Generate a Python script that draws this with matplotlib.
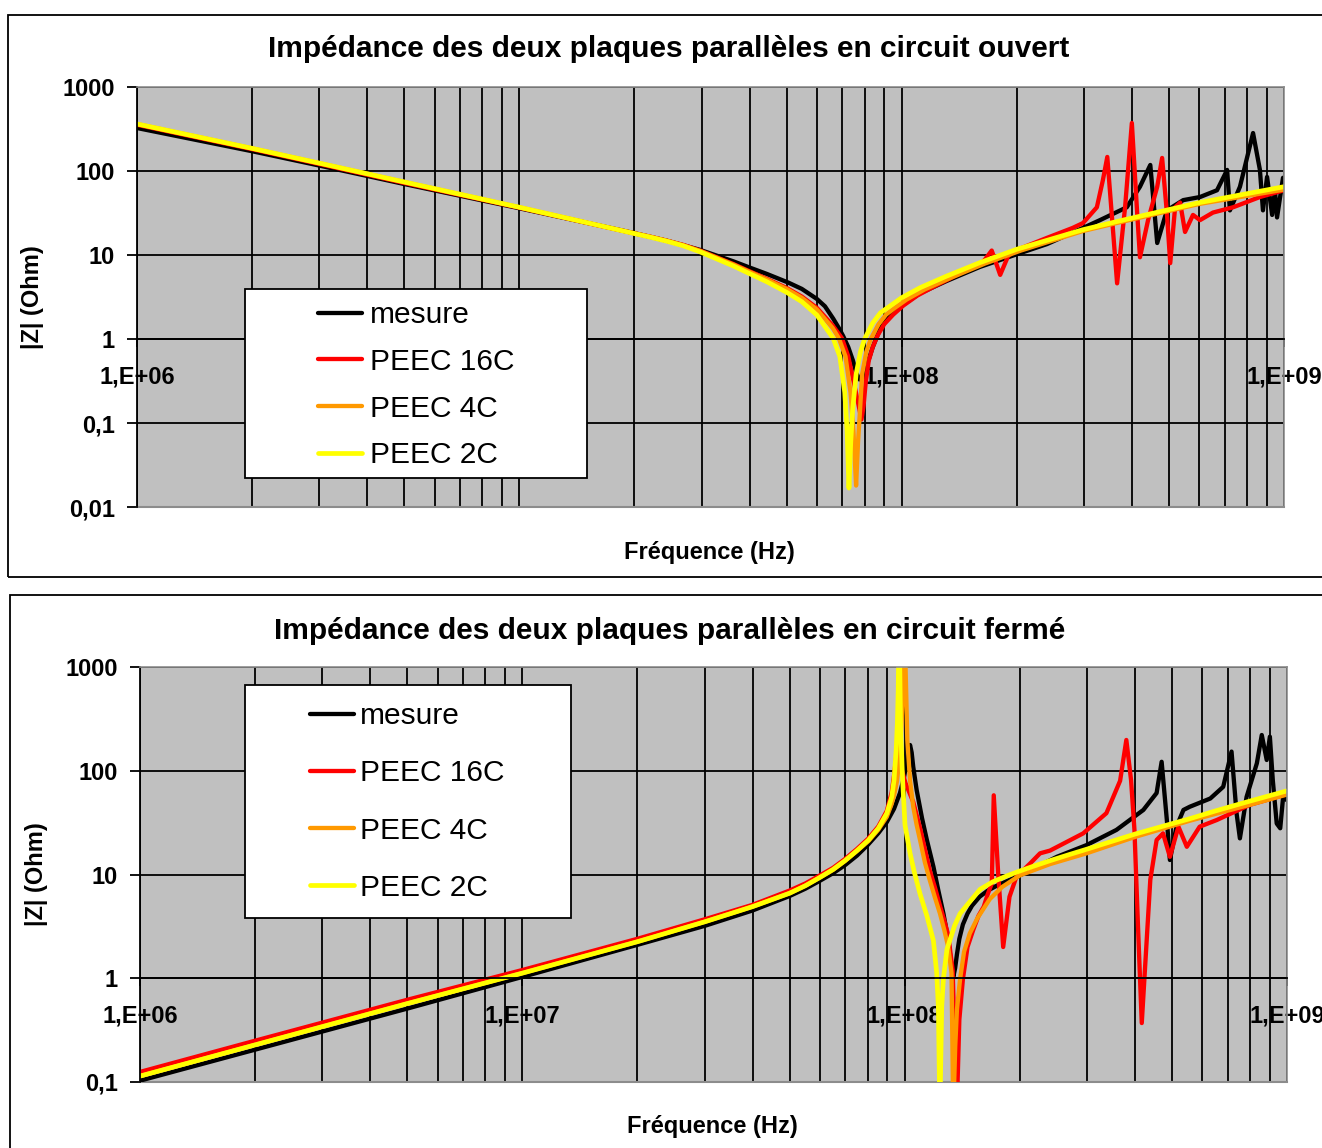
import matplotlib
matplotlib.use("Agg")
import matplotlib.pyplot as plt
from matplotlib.patches import Rectangle
from matplotlib.ticker import LogLocator, NullLocator, FixedLocator
import numpy as np

plt.rcParams['font.family'] = ['Liberation Sans', 'DejaVu Sans']

# ---------------------------------------------------------------
# Data : frequency in MHz, |Z| in Ohm
# ---------------------------------------------------------------
# Circuit ouvert
f_open_mesure = [1, 2, 3, 5, 10, 16.3, 20, 24.3, 29.7, 36.3, 40, 44.4, 50.5, 54.8, 60,
                 63, 66.2, 68.5, 70.4, 72.5, 74.6, 76, 77.5, 79, 81, 84, 88, 93.2, 100,
                 111.6, 131, 160, 200, 240, 298, 330, 388, 420, 447, 466, 494, 545, 603,
                 668, 710, 722, 767, 830, 865, 881, 903, 931, 947, 959, 994, 1000]
z_open_mesure = [325, 172, 116, 70, 36, 22.3, 18.2, 14.8, 11.5, 8.4, 7.1, 5.95, 4.7,
                 3.95, 3.0, 2.45, 1.75, 1.35, 1.07, 0.8, 0.55, 0.4, 0.33, 0.36, 0.48, 0.8,
                 1.35, 1.9, 2.5, 3.5, 4.9, 7.2, 10.2, 13.5, 21, 26, 37, 65, 118, 13.9, 34,
                 45, 49, 59, 103, 34, 65, 283, 103, 34, 85, 30, 59, 28, 83, 80]

f_open_16c = [1, 2, 3, 5, 10, 16.3, 20, 22, 24.3, 26.8, 29.7, 32.8, 36.3, 40, 44.4, 50,
              54.8, 60, 66, 69.8, 72.5, 75, 76.8, 78.5, 79.5, 80.5, 82, 84, 86.5, 90,
              95, 101, 110, 125, 145, 160, 165, 172, 181, 190, 200, 240, 280, 298, 324,
              336, 345, 357, 366, 384, 400, 413, 420, 441, 466, 480, 494, 504, 519, 535,
              551, 578, 603, 652, 736, 865, 1000]
z_open_16c = [355, 182, 121, 72, 36.5, 22.2, 18.1, 16.5, 14.8, 13.2, 11.3, 9.4, 7.8, 6.4,
              5.2, 4.05, 3.2, 2.35, 1.45, 1.02, 0.62, 0.3, 0.18, 0.11, 0.16, 0.3, 0.55,
              0.8, 1.1, 1.5, 1.95, 2.5, 3.3, 4.5, 6.3, 7.6, 8.8, 11.3, 5.8, 9.8, 11.5,
              16, 21, 24, 37, 78, 147, 19.9, 4.6, 37, 373, 31.6, 9.4, 26, 65, 143, 31.6,
              8.0, 37, 42, 18.8, 30, 26, 32, 37, 49, 59]

f_open_4c = [1, 2, 3, 5, 10, 16.3, 20, 22, 24.3, 26.8, 29.7, 32.8, 36.3, 40, 44.4, 50,
             54.8, 60, 66, 68.5, 71.3, 73.5, 74.8, 76, 76.9, 77.8, 78.8, 80.8, 83, 87,
             91, 96, 103, 115, 135, 165, 205, 298, 372, 600, 1000]
z_open_4c = [363, 186, 124, 74, 37, 22.3, 18.1, 16.5, 14.8, 13.1, 11.2, 9.3, 7.7, 6.3,
             5.1, 3.95, 3.1, 2.25, 1.35, 1.02, 0.62, 0.23, 0.08, 0.018, 0.06, 0.14, 0.38,
             0.7, 1.0, 1.5, 1.95, 2.35, 2.95, 3.9, 5.4, 7.9, 11.3, 19.3, 24.5, 40.5, 60]

f_open_2c = [1, 2, 3, 5, 10, 16.3, 20, 22, 24.3, 26.8, 29.7, 32.8, 36.3, 40, 44.4, 50,
             54.8, 60, 66.2, 68.9, 71.0, 72.0, 72.8, 73.6, 74.4, 76, 78, 80, 84, 88, 93,
             100, 112, 131, 160, 200, 298, 372, 600, 1000]
z_open_2c = [363, 186, 124, 74, 37, 22.3, 18.0, 16.3, 14.6, 12.9, 10.9, 9.0, 7.4, 6.0,
             4.8, 3.6, 2.78, 1.93, 1.02, 0.62, 0.23, 0.08, 0.0168, 0.06, 0.14, 0.38, 0.7,
             1.0, 1.55, 2.05, 2.45, 3.1, 4.1, 5.6, 8.1, 11.7, 20, 25.5, 42, 65]

# Circuit fermé
f_closed_mesure = [1, 2, 5, 10, 20, 30, 40, 50, 55, 60, 65, 70, 75, 80, 85.3, 89.8, 93.8,
                   97.2, 99.5, 101, 102.3, 103.3, 104.3, 105.3, 107.5, 111, 114.3, 118.9,
                   122.5, 126.3, 130, 132, 134, 135.5, 137, 139, 142, 146, 150, 157, 165,
                   173, 200, 250, 299, 358, 421, 456, 470, 485, 494, 514, 536, 557, 630,
                   681, 716, 738, 753, 784, 834, 859, 885, 902, 918, 940, 960, 977, 1000]
z_closed_mesure = [0.103, 0.205, 0.51, 1.03, 2.1, 3.2, 4.5, 6.2, 7.3, 8.7, 10.3, 12.4,
                   15.2, 19.2, 25, 32, 43, 61, 85, 115, 150, 177, 150, 109, 65, 35, 21.5,
                   11.9, 7, 4.2, 2.34, 1.5, 1.03, 1.25, 1.7, 2.4, 3.3, 4.2, 5.0, 6.1, 7.0,
                   7.7, 9.8, 14.8, 19.2, 26.9, 41.9, 61, 122, 33.5, 13.8, 28.9, 41.9, 45,
                   54, 70, 153, 39, 22.3, 56, 118, 221, 127, 213, 81, 31, 27.9, 56, 52]

f_closed_16c = [1, 2, 5, 10, 20, 30, 40, 50, 55, 60, 65, 69.8, 75, 80.4, 85.3, 89.8,
                92.5, 93.8, 95.3, 96.5, 100.5, 105.3, 110, 116.3, 120, 123.7, 127, 130,
                133.5, 136.8, 139, 142, 146, 151, 156, 161, 165, 169, 171, 175.6, 181,
                188, 196, 213, 226, 240, 293, 337, 366, 380, 391, 399, 408, 417, 426, 439,
                456, 474, 494, 520, 547, 591, 655, 800, 977, 1000]
z_closed_16c = [0.125, 0.25, 0.62, 1.2, 2.4, 3.7, 5.1, 7.0, 8.2, 9.8, 11.6, 14.1, 17.6,
                22.3, 29, 41, 62, 90, 150, 130, 76, 50, 27, 11, 7.5, 5, 3.6, 2.6, 1.2,
                0.05, 0.4, 0.98, 2.0, 2.9, 4.0, 4.9, 6.5, 8.2, 58, 10.3, 2.0, 6.1, 9.5,
                12.8, 16, 17, 24.9, 39, 80, 198, 81, 27, 2.9, 0.37, 1.39, 8.9, 21.5,
                24.9, 14.8, 28.9, 18.5, 28.9, 33.5, 47, 58, 59]

f_closed_4c = [1, 2, 5, 10, 20, 30, 40, 50, 55, 60, 65, 69.8, 75, 80.4, 85.3, 89.8, 92.5,
               94, 95.5, 97, 98, 98.8, 99.8, 101.0, 101.6, 103.3, 105.3, 107.5, 109.7,
               113, 116.3, 120, 123.7, 127, 130, 132.6, 134, 135.6, 137, 139.6, 143, 148,
               155, 167, 180, 200, 240, 299, 400, 557, 800, 1000]
z_closed_4c = [0.114, 0.228, 0.57, 1.12, 2.25, 3.5, 4.9, 6.6, 7.8, 9.35, 11.1, 13.5,
               16.8, 21, 27, 36, 48, 60, 80, 140, 250, 550, 3000, 500, 198, 80, 45, 30,
               21.5, 13, 8.85, 6, 4.2, 2.9, 2.0, 1.12, 0.05, 0.22, 0.5, 0.98, 1.8, 2.7,
               3.8, 5.8, 7.6, 9.8, 12.6, 16.0, 23, 33, 47, 59]

f_closed_2c = [1, 2, 5, 10, 20, 30, 40, 50, 55, 60.1, 65, 69.8, 75, 80.4, 85.3, 89.8,
               92.5, 93.8, 95, 95.7, 96.2, 96.7, 97.6, 98.8, 100.2, 103.3, 106, 109.7,
               114.3, 118.9, 121.3, 122.5, 123.6, 125, 126.3, 129, 135, 139.6, 150, 157.5,
               170, 185, 200, 217, 240, 270, 299, 400, 494, 557, 650, 800, 1000]
z_closed_2c = [0.114, 0.228, 0.57, 1.12, 2.25, 3.5, 4.9, 6.6, 7.8, 9.4, 11.2, 13.6, 17.0,
               21.5, 27.9, 38.9, 56, 81.5, 158, 287, 600, 3000, 250, 80, 30, 16, 10.5,
               6.5, 4.0, 2.3, 1.12, 0.53, 0.05, 0.53, 1.0, 1.9, 3.2, 4.2, 5.8, 7.2, 8.5,
               9.7, 10.8, 12.0, 13.6, 15.6, 17.5, 24.5, 30.5, 34.5, 41, 51, 64]

series_names = ["mesure", "PEEC 16C", "PEEC 4C", "PEEC 2C"]
series_colors = ["#000000", "#FF0000", "#FF9900", "#FFFF00"]

xtick_values = [1e6, 1e7, 1e8, 1e9]
# in the open-circuit chart the 1,E+07 label sits under the legend box
xtick_labels_open = ["1,E+06", "", "1,E+08", "1,E+09"]
xtick_labels_closed = ["1,E+06", "1,E+07", "1,E+08", "1,E+09"]
ytick_open = [0.01, 0.1, 1, 10, 100, 1000]
ytick_open_labels = ["0,01", "0,1", "1", "10", "100", "1000"]
ytick_closed = [0.1, 1, 10, 100, 1000]
ytick_closed_labels = ["0,1", "1", "10", "100", "1000"]

title_open = "Impédance des deux plaques parallèles en circuit ouvert"
title_closed = "Impédance des deux plaques parallèles en circuit fermé"
xlabel = "Fréquence (Hz)"
ylabel = "|Z| (Ohm)"

# ---------------------------------------------------------------
W, H = 1322, 1148
fig = plt.figure(figsize=(W / 100, H / 100), dpi=100)
fig.patch.set_facecolor("white")


def fx(px):
    return px / W


def fy(py):
    return 1 - py / H


def panel_axes(left, top, right, bottom):
    return fig.add_axes([fx(left), fy(bottom), (right - left) / W, (bottom - top) / H])


def style(ax, xlabels, yticks, ylabels):
    # the x axis crosses the y axis at |Z| = 1
    ax.spines["bottom"].set_position(("data", 1.0))
    ax.set_xscale("log")
    ax.set_yscale("log")
    ax.set_xlim(1e6, 1e9)
    ax.set_ylim(yticks[0], yticks[-1])
    ax.set_facecolor("#C0C0C0")
    ax.set_axisbelow(True)
    ax.xaxis.set_major_locator(FixedLocator(xtick_values))
    ax.xaxis.set_minor_locator(LogLocator(base=10, subs=np.arange(2, 10), numticks=100))
    ax.set_xticklabels(xlabels, fontweight="bold", fontsize=17)
    ax.yaxis.set_major_locator(FixedLocator(yticks))
    ax.yaxis.set_minor_locator(NullLocator())
    ax.set_yticklabels(ylabels, fontweight="bold", fontsize=17)
    ax.grid(which="major", axis="both", color="black", lw=1.3)
    ax.grid(which="minor", axis="x", color="black", lw=1.3)
    ax.tick_params(axis="y", which="major", length=7, width=1.3, direction="out", pad=9)
    ax.tick_params(axis="x", which="major", length=6, width=1.3, direction="out", pad=13)
    ax.tick_params(axis="x", which="minor", length=0)
    ax.spines["bottom"].set_color("black")
    ax.spines["bottom"].set_linewidth(1.3)
    ax.spines["left"].set_color("black")
    ax.spines["left"].set_linewidth(1.3)
    for s in ("top", "right"):
        ax.spines[s].set_color("#8C8C8C")
        ax.spines[s].set_linewidth(1.2)
    ax.axhline(yticks[0], color="#8C8C8C", lw=1.5, clip_on=False, zorder=1)


def draw_curves(ax, data):
    lines = []
    for (f, z), name, col in zip(data, series_names, series_colors):
        lw = 3.1 if name != "PEEC 2C" else 3.4
        ln, = ax.plot(np.array(f) * 1e6, z, color=col, lw=lw, label=name,
                      solid_joinstyle="round", solid_capstyle="round", zorder=2)
        lines.append(ln)
    return lines


# ---- top panel : open circuit ----
fig.add_artist(Rectangle((fx(8), fy(577)), fx(1340) - fx(8), fy(15) - fy(577),
                         transform=fig.transFigure, fill=False, ec="black", lw=1.3))
ax1 = panel_axes(137, 87, 1284, 507)
lines1 = draw_curves(ax1, [(f_open_mesure, z_open_mesure), (f_open_16c, z_open_16c),
                           (f_open_4c, z_open_4c), (f_open_2c, z_open_2c)])
style(ax1, xtick_labels_open, ytick_open, ytick_open_labels)
fig.text(fx(669), fy(49), title_open, ha="center", va="center",
         fontsize=21.5, fontweight="bold")
fig.text(fx(709), fy(552), xlabel, ha="center", va="center", fontsize=17, fontweight="bold")
fig.text(fx(33), fy(297), ylabel, ha="center", va="center", rotation=90,
         fontsize=17, fontweight="bold")

fig.add_artist(Rectangle((fx(245), fy(478)), fx(587) - fx(245), fy(289) - fy(478),
                         transform=fig.transFigure, fc="white", ec="black", lw=1.3,
                         zorder=5))
leg1 = fig.legend(handles=lines1, labels=series_names, loc="upper left",
                  bbox_to_anchor=(fx(318), fy(301)), bbox_transform=fig.transFigure,
                  frameon=False, borderpad=0, borderaxespad=0, handlelength=1.47,
                  handletextpad=0.27, labelspacing=0.63, fontsize=21.5)
leg1.set_zorder(6)

# ---- bottom panel : closed circuit ----
fig.add_artist(Rectangle((fx(10), fy(1170)), fx(1340) - fx(10), fy(595) - fy(1170),
                         transform=fig.transFigure, fill=False, ec="black", lw=1.3))
ax2 = panel_axes(140, 667, 1287, 1082)
lines2 = draw_curves(ax2, [(f_closed_mesure, z_closed_mesure), (f_closed_16c, z_closed_16c),
                           (f_closed_4c, z_closed_4c), (f_closed_2c, z_closed_2c)])
style(ax2, xtick_labels_closed, ytick_closed, ytick_closed_labels)
fig.text(fx(670), fy(631), title_closed, ha="center", va="center",
         fontsize=21.5, fontweight="bold")
fig.text(fx(712), fy(1127), xlabel, ha="center", va="center", fontsize=17, fontweight="bold")
fig.text(fx(36), fy(874), ylabel, ha="center", va="center", rotation=90,
         fontsize=17, fontweight="bold")

fig.add_artist(Rectangle((fx(245), fy(918)), fx(571) - fx(245), fy(685) - fy(918),
                         transform=fig.transFigure, fc="white", ec="black", lw=1.3,
                         zorder=5))
leg2 = fig.legend(handles=lines2, labels=series_names, loc="upper left",
                  bbox_to_anchor=(fx(310), fy(702)), bbox_transform=fig.transFigure,
                  frameon=False, borderpad=0, borderaxespad=0, handlelength=1.47,
                  handletextpad=0.2, labelspacing=0.98, fontsize=21.5)
leg2.set_zorder(6)

fig.savefig("out.png", dpi=100, facecolor="white")
